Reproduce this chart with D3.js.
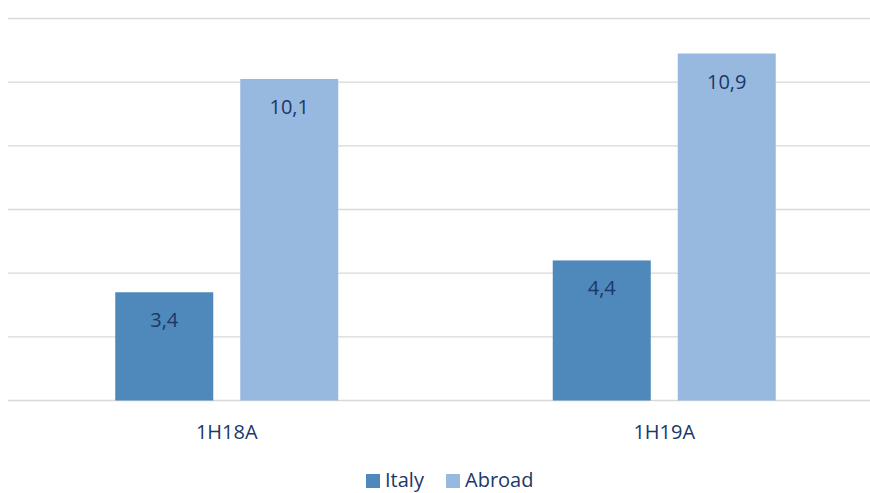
<!DOCTYPE html>
<html>
<head>
<meta charset="utf-8">
<script src="https://cdn.jsdelivr.net/npm/d3@7"></script>
<style>
  html, body { margin: 0; padding: 0; background: #fff; overflow: hidden; }
  svg { display: block; font-family: "Open Sans", "Noto Sans", sans-serif; }
</style>
</head>
<body>
<svg id="chart" width="870" height="493"></svg>
<script>
const categories = ["1H18A", "1H19A"];
const seriesNames = ["Italy", "Abroad"];
const italyValues = [3.4, 4.4];
const abroadValues = [10.1, 10.9];
const valueLabels = [["3,4", "4,4"], ["10,1", "10,9"]];
const yTicks = [0, 2, 4, 6, 8, 10, 12];

const colors = { Italy: "#4F88BB", Abroad: "#97B9E0" };
const textColor = "#1C3768";

const svg = d3.select("#chart");
const x0 = d3.scaleBand().domain(categories).range([8, 883]).padding(0);
const y = d3.scaleLinear().domain([0, 12]).range([400.5, 18.5]);

const bw = x0.bandwidth();
const groupW = bw * 223 / 437.5;
const x1 = d3.scaleBand().domain(seriesNames).range([(bw - groupW) / 2, (bw + groupW) / 2]).paddingInner(0.216).paddingOuter(0);

// gridlines
svg.append("g").selectAll("line").data(yTicks).join("line")
  .attr("x1", 8).attr("x2", 883)
  .attr("y1", d => y(d)).attr("y2", d => y(d))
  .attr("stroke", "#d9d9d9").attr("stroke-width", 1.3);

const data = [];
categories.forEach((c, i) => {
  data.push({ cat: c, s: "Italy", v: italyValues[i], label: valueLabels[0][i] });
  data.push({ cat: c, s: "Abroad", v: abroadValues[i], label: valueLabels[1][i] });
});

const bars = svg.append("g");
bars.selectAll("rect").data(data).join("rect")
  .attr("x", d => x0(d.cat) + x1(d.s))
  .attr("y", d => y(d.v))
  .attr("width", x1.bandwidth())
  .attr("height", d => y(0) - y(d.v))
  .attr("fill", d => colors[d.s]);

bars.selectAll("text").data(data).join("text")
  .attr("x", d => x0(d.cat) + x1(d.s) + x1.bandwidth() / 2)
  .attr("y", d => y(d.v) + 35)
  .attr("text-anchor", "middle")
  .attr("font-size", 20)
  .attr("fill", textColor)
  .text(d => d.label);

// category axis labels
svg.append("g").selectAll("text").data(categories).join("text")
  .attr("x", d => x0(d) + bw / 2)
  .attr("y", 439)
  .attr("text-anchor", "middle")
  .attr("font-size", 20)
  .attr("fill", textColor)
  .text(d => d);

// legend
const legendPos = [{ s: "Italy", x: 366, tx: 385 }, { s: "Abroad", x: 446, tx: 465 }];
const lg = svg.append("g");
lg.selectAll("rect").data(legendPos).join("rect")
  .attr("x", d => d.x).attr("y", 474).attr("width", 14).attr("height", 14)
  .attr("fill", d => colors[d.s]);
lg.selectAll("text").data(legendPos).join("text")
  .attr("x", d => d.tx).attr("y", 487)
  .attr("font-size", 20)
  .attr("fill", textColor)
  .text(d => d.s);
</script>
</body>
</html>
